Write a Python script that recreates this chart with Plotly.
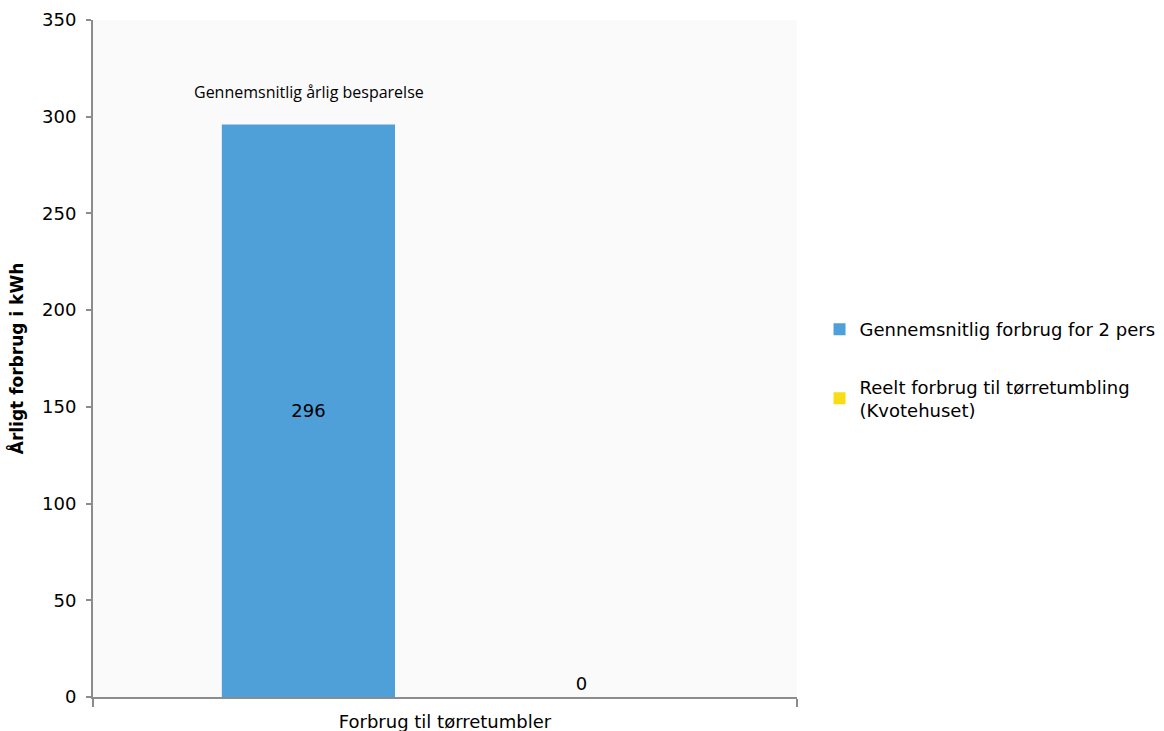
import plotly.graph_objects as go

categories = ["Forbrug til tørretumbler"]
series_names = [
    "Gennemsnitlig forbrug for 2 pers",
    "Reelt forbrug til tørretumbling<br>(Kvotehuset)",
]
avg_values = [296]
real_values = [0]
y_ticks = [0, 50, 100, 150, 200, 250, 300, 350]
savings_label = "Gennemsnitlig årlig besparelse"

blue = "#4f9fd9"
yellow = "#f7dc16"
axis_color = "#8c8c8c"
font_main = "DejaVu Sans, Verdana, sans-serif"

fig = go.Figure()
fig.add_trace(go.Bar(
    x=categories, y=avg_values, name=series_names[0],
    marker=dict(color=blue, line=dict(width=0)),
    text=[str(v) for v in avg_values], textposition="inside",
    insidetextanchor="middle", textangle=0,
    textfont=dict(family=font_main, size=18, color="#000000"),
    legendgroup="a",
))
fig.add_trace(go.Bar(
    x=categories, y=real_values, name=series_names[1],
    marker=dict(color=yellow, line=dict(width=0)),
    text=[str(v) for v in real_values], textposition="outside",
    textfont=dict(family=font_main, size=18, color="#000000"),
    cliponaxis=False,
    legendgroup="b",
))

fig.add_annotation(
    x=categories[0], y=313, xref="x", yref="y", xshift=-136,
    text=savings_label, showarrow=False,
    font=dict(family="Open Sans, Noto Sans, sans-serif", size=16, color="#000000"),
)

fig.update_layout(
    width=1164, height=731,
    margin=dict(l=93, r=367, t=20, b=34, autoexpand=False),
    paper_bgcolor="#ffffff",
    plot_bgcolor="#fafafa",
    barmode="group",
    bargap=0.224,
    bargroupgap=0.366,
    font=dict(family=font_main, size=18, color="#000000"),
    legend=dict(
        x=1.032, xanchor="left", y=0.483, yanchor="middle",
        font=dict(family=font_main, size=18, color="#000000"),
        traceorder="grouped", tracegroupgap=31,
        bgcolor="rgba(0,0,0,0)",
    ),
    showlegend=True,
)
fig.update_xaxes(
    showline=True, linecolor=axis_color, linewidth=2,
    ticks="outside", tickson="boundaries", ticklen=8, tickcolor=axis_color, tickwidth=2,
    showgrid=False, tickfont=dict(family=font_main, size=18),
    ticklabelstandoff=7, automargin=False,
)
fig.update_yaxes(
    range=[0, 350], tickvals=y_ticks, showline=True, linecolor=axis_color, linewidth=2,
    ticks="outside", ticklen=5, tickcolor=axis_color, tickwidth=2,
    showgrid=False, zeroline=False,
    tickfont=dict(family=font_main, size=18), ticklabelstandoff=6,
    title=dict(text="<b>Årligt forbrug i kWh</b>", font=dict(family=font_main, size=17), standoff=14),
    automargin=False,
)

fig.write_html("out.html")
